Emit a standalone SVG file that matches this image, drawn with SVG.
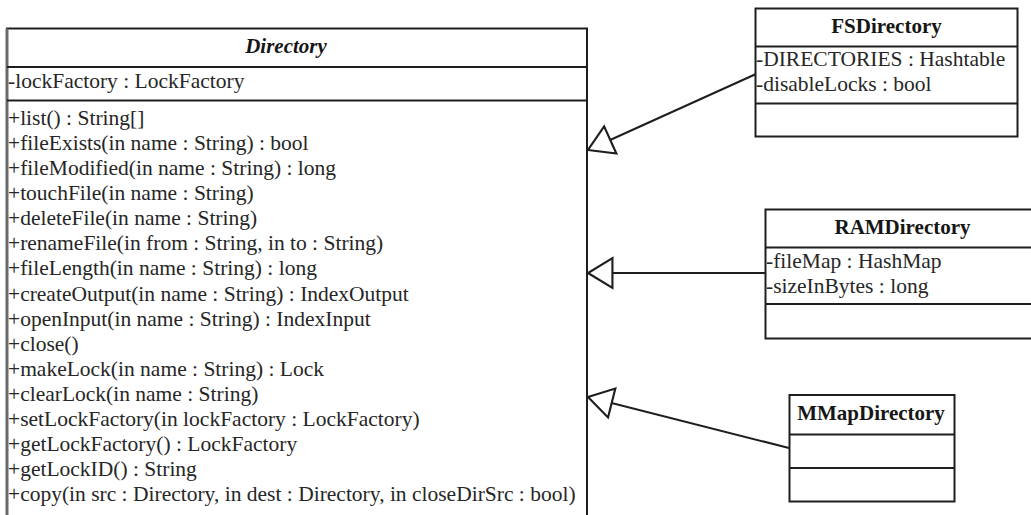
<svg xmlns="http://www.w3.org/2000/svg" width="1031" height="515" viewBox="0 0 1031 515">
  <style>
    .box { fill: #ffffff; stroke: #1e1e1e; stroke-width: 2; }
    .sep { stroke: #1e1e1e; stroke-width: 2; }
    .txt { font-family: "Liberation Serif", "Times New Roman", serif; font-size: 21.5px; fill: #262626; }
    .title { font-family: "Liberation Serif", "Times New Roman", serif; font-size: 21px; font-weight: bold; fill: #161616; text-anchor: middle; }
    .abstract { font-style: italic; }
    .edge { fill: none; stroke: #1e1e1e; stroke-width: 2; }
  </style>
  <defs>
    <!-- hollow triangle for generalization -->
    <marker id="gen" markerUnits="userSpaceOnUse" markerWidth="30" markerHeight="34" viewBox="-25 -16 28 32" refX="0" refY="0" orient="auto" overflow="visible">
      <path d="M0,0 L-23,-14 L-23,14 Z" fill="#ffffff" stroke="#1e1e1e" stroke-width="2" stroke-linejoin="miter"/>
    </marker>
  </defs>
  <rect width="1031" height="515" fill="#ffffff"/>

  <!-- generalization links -->
  <g id="connectors">
    <line class="edge" x1="756" y1="74" x2="588" y2="150" marker-end="url(#gen)"/>
    <line class="edge" x1="765" y1="273" x2="588" y2="273" marker-end="url(#gen)"/>
    <line class="edge" x1="789" y1="448" x2="588" y2="397" marker-end="url(#gen)"/>
  </g>

  <!-- abstract base class -->
  <g id="Directory">
    <rect class="box" x="7" y="28.5" width="580" height="510"/>
    <line x1="7" y1="28.5" x2="7" y2="515" stroke="#6a6a6a" stroke-width="3"/>
    <line class="sep" x1="7" y1="67" x2="587" y2="67"/>
    <line class="sep" x1="7" y1="100.5" x2="587" y2="100.5"/>
    <text class="title abstract" x="286" y="53">Directory</text>
    <text class="txt" x="8" y="88">-lockFactory : LockFactory</text>
    <text class="txt" x="8" y="125">+list() : String[]</text>
    <text class="txt" x="8" y="150.1">+fileExists(in name : String) : bool</text>
    <text class="txt" x="8" y="175.1">+fileModified(in name : String) : long</text>
    <text class="txt" x="8" y="200.2">+touchFile(in name : String)</text>
    <text class="txt" x="8" y="225.3">+deleteFile(in name : String)</text>
    <text class="txt" x="8" y="250.4">+renameFile(in from : String, in to : String)</text>
    <text class="txt" x="8" y="275.4">+fileLength(in name : String) : long</text>
    <text class="txt" x="8" y="300.5">+createOutput(in name : String) : IndexOutput</text>
    <text class="txt" x="8" y="325.6">+openInput(in name : String) : IndexInput</text>
    <text class="txt" x="8" y="350.6">+close()</text>
    <text class="txt" x="8" y="375.7">+makeLock(in name : String) : Lock</text>
    <text class="txt" x="8" y="400.8">+clearLock(in name : String)</text>
    <text class="txt" x="8" y="425.8">+setLockFactory(in lockFactory : LockFactory)</text>
    <text class="txt" x="8" y="450.9">+getLockFactory() : LockFactory</text>
    <text class="txt" x="8" y="476">+getLockID() : String</text>
    <text class="txt" x="8" y="501">+copy(in src : Directory, in dest : Directory, in closeDirSrc : bool)</text>
  </g>

  <g id="FSDirectory">
    <rect class="box" x="755.5" y="8.5" width="262" height="128"/>
    <line class="sep" x1="755.5" y1="46.5" x2="1017.5" y2="46.5"/>
    <line class="sep" x1="755.5" y1="103.5" x2="1017.5" y2="103.5"/>
    <text class="title" x="886.5" y="33">FSDirectory</text>
    <text class="txt" x="756" y="66">-DIRECTORIES : Hashtable</text>
    <text class="txt" x="756" y="91">-disableLocks : bool</text>
  </g>

  <g id="RAMDirectory">
    <rect class="box" x="765.5" y="209.5" width="275" height="129"/>
    <line class="sep" x1="765.5" y1="247.5" x2="1040" y2="247.5"/>
    <line class="sep" x1="765.5" y1="304" x2="1040" y2="304"/>
    <text class="title" x="902.5" y="234">RAMDirectory</text>
    <text class="txt" x="766" y="268">-fileMap : HashMap</text>
    <text class="txt" x="766" y="293">-sizeInBytes : long</text>
  </g>

  <g id="MMapDirectory">
    <rect class="box" x="789.5" y="395" width="165" height="106.5"/>
    <line class="sep" x1="789.5" y1="434.5" x2="954.5" y2="434.5"/>
    <line class="sep" x1="789.5" y1="468" x2="954.5" y2="468"/>
    <text class="title" x="871" y="420">MMapDirectory</text>
  </g>
</svg>
